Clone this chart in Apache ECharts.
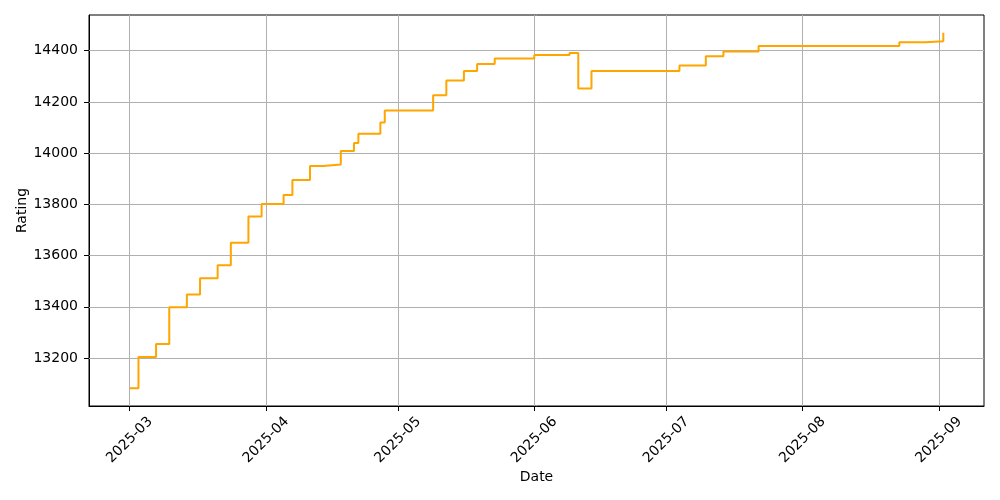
<!DOCTYPE html>
<html>
<head>
<meta charset="utf-8">
<script src="https://cdn.jsdelivr.net/npm/echarts@6/dist/echarts.min.js"></script>
<style>html,body{margin:0;padding:0;background:#fff}#c{width:1000px;height:500px}</style>
</head>
<body>
<div id="c"></div>
<script>
const dates = ['2025-03-01','2025-03-03','2025-03-07','2025-03-10','2025-03-14','2025-03-17','2025-03-21','2025-03-24','2025-03-28','2025-03-31',
  '2025-04-05','2025-04-07','2025-04-11','2025-04-14','2025-04-18','2025-04-21','2025-04-22','2025-04-27','2025-04-28',
  '2025-05-09','2025-05-12','2025-05-16','2025-05-19','2025-05-23',
  '2025-06-01','2025-06-09','2025-06-11','2025-06-14',
  '2025-07-04','2025-07-10','2025-07-14','2025-07-22',
  '2025-08-23','2025-08-29','2025-09-02'];
const ratings = [13082,13204,13255,13398,13448,13511,13562,13650,13753,13801,
  13837,13895,13950,13956,14008,14040,14076,14120,14166,
  14226,14284,14321,14348,14370,
  14383,14391,14252,14321,
  14342,14378,14397,14418,
  14433,14437,14470];
const xTickDates = ['2025-03-01','2025-04-01','2025-05-01','2025-06-01','2025-07-01','2025-08-01','2025-09-01'];
const yTicks = [13200,13400,13600,13800,14000,14200,14400];

function parseLocal(s){const p=s.split('-').map(Number);return new Date(p[0],p[1]-1,p[2]).getTime();}
const times = dates.map(parseLocal);
const xTickTimes = xTickDates.map(parseLocal);
const tMin = Math.min(...times), tMax = Math.max(...times);
const tPad = (tMax - tMin) * 0.05;
const vMin = Math.min(...ratings), vMax = Math.max(...ratings);
const vPad = (vMax - vMin) * 0.05;

const font = 'DejaVu Sans';
const gridColor = '#b0b0b0';

const chart = echarts.init(document.getElementById('c'), null, {renderer:'canvas'});
chart.setOption({
  animation: false,
  textStyle: {fontFamily: font},
  grid: {left: 89, right: 16, top: 15, bottom: 94, containLabel: false, outerBoundsMode: 'none',
         show: true, borderColor: '#000', borderWidth: 1, backgroundColor: 'transparent'},
  xAxis: {
    type: 'value',
    scale: true,
    min: tMin - tPad,
    max: tMax + tPad,
    name: 'Date',
    nameLocation: 'middle',
    nameGap: 64,
    nameMoveOverlap: false,
    nameTextStyle: {fontFamily: font, fontSize: 14, color: '#000'},
    axisLine: {show: true, onZero: false, lineStyle: {color: '#000', width: 1}},
    axisTick: {show: true, length: 5, lineStyle: {color: '#000', width: 1}, customValues: xTickTimes},
    axisLabel: {
      customValues: xTickTimes,
      rotate: 45,
      align: 'center',
      verticalAlign: 'middle',
      margin: 34,
      fontFamily: font,
      fontSize: 14,
      color: '#000',
      formatter: function(v){const d=new Date(v);return d.getFullYear()+'-'+String(d.getMonth()+1).padStart(2,'0');}
    },
    splitLine: {show: false}
  },
  yAxis: {
    type: 'value',
    scale: true,
    min: vMin - vPad,
    max: vMax + vPad,
    name: 'Rating',
    nameLocation: 'middle',
    nameGap: 60,
    nameMoveOverlap: false,
    nameTextStyle: {fontFamily: font, fontSize: 14, color: '#000'},
    axisLine: {show: true, onZero: false, lineStyle: {color: '#000', width: 1}},
    axisTick: {show: true, length: 5, lineStyle: {color: '#000', width: 1}, customValues: yTicks},
    axisLabel: {customValues: yTicks, margin: 11, fontFamily: font, fontSize: 14, color: '#000',
      formatter: function(v){return String(Math.round(v));}},
    splitLine: {show: false}
  },
  series: [{
    type: 'line',
    data: [],
    z: 1,
    silent: true,
    markLine: {
      silent: true,
      symbol: ['none','none'],
      label: {show: false},
      animation: false,
      lineStyle: {color: gridColor, width: 1, type: 'solid'},
      emphasis: {disabled: true},
      data: xTickTimes.map(t=>({xAxis: t})).concat(yTicks.map(v=>({yAxis: v})))
    }
  }, {
    type: 'line',
    step: 'end',
    data: times.map((t,i)=>[t, ratings[i]]),
    showSymbol: false,
    symbol: 'none',
    lineStyle: {color: '#FFA500', width: 2},
    z: 5
  }]
});
</script>
</body>
</html>
